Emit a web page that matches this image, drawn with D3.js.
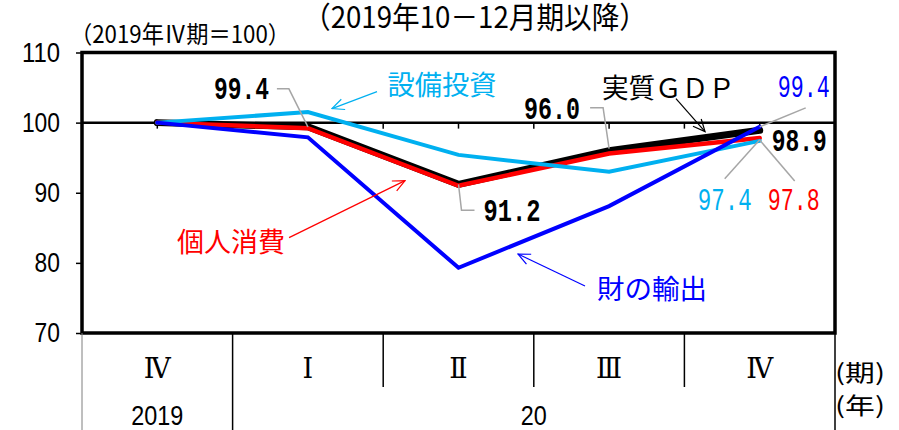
<!DOCTYPE html>
<html>
<head>
<meta charset="utf-8">
<script src="https://cdn.jsdelivr.net/npm/d3@7"></script>
<style>
  body { margin: 0; background: #fff; }
  svg { display: block; }
</style>
</head>
<body>
<div id="chart"></div>
<script>
// categories / tick labels
const quarters = ["Ⅳ", "Ⅰ", "Ⅱ", "Ⅲ", "Ⅳ"];
const yearLabels = ["2019", "20"];
const yearSpans = [1, 4];
const yTicks = [70, 80, 90, 100, 110];

// series (2019 IV = 100)
const gdp = [100, 99.4, 91.2, 96.0, 98.9];
const consumption = [100, 99.2, 91.0, 95.6, 97.8];
const capex = [100, 101.5, 95.4, 93.0, 97.4];
const goodsExports = [100, 97.9, 79.3, 88.1, 99.4];

const JP = "'Noto Sans CJK JP', sans-serif";
const MONO = "'Liberation Mono', monospace";
const SANS = "'Liberation Sans', sans-serif";

const W = 899, H = 430;
const box = { left: 82, right: 835, top: 52.5, bottom: 333 };

const svg = d3.select("#chart").append("svg")
  .attr("width", W).attr("height", H);
const defs = svg.append("defs");

const x = d3.scaleLinear().domain([-0.5, quarters.length - 0.5]).range([box.left, box.right]);
const y = d3.scaleLinear().domain([70, 110]).range([box.bottom, box.top]);

const series = [
  { key: "gdp", values: gdp, color: "#000000", width: 7 },
  { key: "cons", values: consumption, color: "#FF0000", width: 4.5 },
  { key: "capex", values: capex, color: "#00B0F0", width: 4 },
  { key: "exp", values: goodsExports, color: "#0000FF", width: 4 }
];

function arrowMarker(id, color) {
  defs.append("marker")
    .attr("id", id)
    .attr("viewBox", "-1 -7 14 14")
    .attr("refX", 12).attr("refY", 0)
    .attr("markerWidth", 14).attr("markerHeight", 14)
    .attr("markerUnits", "userSpaceOnUse")
    .attr("orient", "auto")
    .append("path")
    .attr("d", "M0,-5.5L12,0L0,5.5")
    .attr("fill", "none")
    .attr("stroke", color)
    .attr("stroke-width", 1.2);
}

// titles
svg.append("text")
  .attr("x", 303).attr("y", 28)
  .attr("font-family", JP).attr("font-size", 30)
  .attr("textLength", 344).attr("lengthAdjust", "spacingAndGlyphs")
  .text("（2019年10－12月期以降）");

svg.append("text")
  .attr("x", 70).attr("y", 43)
  .attr("font-family", JP).attr("font-size", 24)
  .attr("textLength", 220).attr("lengthAdjust", "spacingAndGlyphs")
  .text("（2019年Ⅳ期＝100）");

// y axis
const yAxis = svg.append("g")
  .attr("transform", `translate(${box.left},0)`)
  .call(d3.axisLeft(y).tickValues(yTicks).tickSize(6).tickPadding(16));
yAxis.select(".domain").remove();
yAxis.selectAll(".tick line").attr("stroke", "#000").attr("stroke-width", 1.5);
yAxis.selectAll(".tick text")
  .attr("font-family", SANS).attr("font-size", 27).attr("fill", "#000")
  .attr("textLength", d => String(d).length * 12.7)
  .attr("lengthAdjust", "spacingAndGlyphs");

// reference line at 100 with half-category ticks
svg.append("line")
  .attr("x1", box.left).attr("x2", box.right)
  .attr("y1", y(100)).attr("y2", y(100))
  .attr("stroke", "#000").attr("stroke-width", 2.5);
const halfTicks = d3.range(0, quarters.length - 0.5 + 0.01, 0.5).filter(d => d < quarters.length - 0.5);
svg.append("g").selectAll("line")
  .data(halfTicks)
  .join("line")
  .attr("x1", d => x(d)).attr("x2", d => x(d))
  .attr("y1", y(100)).attr("y2", y(100) + 6)
  .attr("stroke", "#000").attr("stroke-width", 1.5);

// series lines
const line = d3.line().x((d, i) => x(i)).y(d => y(d));
svg.append("g").selectAll("path")
  .data(series)
  .join("path")
  .attr("d", d => line(d.values))
  .attr("fill", "none")
  .attr("stroke", d => d.color)
  .attr("stroke-width", d => d.width)
  .attr("stroke-linecap", "round")
  .attr("stroke-linejoin", "miter");

// frame
svg.append("rect")
  .attr("x", box.left).attr("y", box.top)
  .attr("width", box.right - box.left).attr("height", box.bottom - box.top)
  .attr("fill", "none").attr("stroke", "#000").attr("stroke-width", 3.5);

// value labels with gray leaders (offsets from the data point)
const valueLabels = [
  { s: gdp, i: 1, text: "99.4", color: "#000", bold: true, anchor: "end", dx: -39, dy: -28, w: 55, leader: [[0, 0], [-19, -38], [-31, -38]] },
  { s: gdp, i: 3, text: "96.0", color: "#000", bold: true, anchor: "end", dx: -29, dy: -32, w: 56, leader: [[0, -2], [-6, -43], [-19, -43]] },
  { s: gdp, i: 2, text: "91.2", color: "#000", bold: true, anchor: "start", dx: 25, dy: 37, w: 57, leader: [[0, 0], [3, 26], [16, 26]] },
  { s: gdp, i: 4, text: "98.9", color: "#000", bold: true, anchor: "start", dx: 12, dy: 21, w: 55, leader: null },
  { s: goodsExports, i: 4, text: "99.4", color: "#0000FF", bold: false, anchor: "start", dx: 18, dy: -30, w: 52, leader: [[0, 0], [46, -19]] },
  { s: capex, i: 4, text: "97.4", color: "#00B0F0", bold: false, anchor: "start", dx: -62, dy: 69, w: 54, leader: [[0, -1], [-35, 38]] },
  { s: consumption, i: 4, text: "97.8", color: "#FF0000", bold: false, anchor: "start", dx: 8, dy: 72, w: 52, leader: [[0, 2], [35, 43]] }
];

const ann = svg.append("g");
valueLabels.forEach(d => {
  const px = x(d.i), py = y(d.s[d.i]);
  if (d.leader) {
    ann.append("polyline")
      .attr("points", d.leader.map(p => [px + p[0], py + p[1]].join(",")).join(" "))
      .attr("fill", "none").attr("stroke", "#A6A6A6").attr("stroke-width", 1.5);
  }
  ann.append("text")
    .attr("x", px + d.dx).attr("y", py + d.dy)
    .attr("text-anchor", d.anchor)
    .attr("font-family", MONO).attr("font-size", 31)
    .attr("font-weight", d.bold ? "bold" : "normal")
    .attr("fill", d.color)
    .attr("textLength", d.w).attr("lengthAdjust", "spacingAndGlyphs")
    .text(d.text);
});

// series names with arrows (positions in category / value units)
const nameLabels = [
  { text: "設備投資", color: "#00B0F0", at: [1.89, 105.63], w: 109, from: [1.459, 104.42], to: [1.16, 102.0] },
  { text: "実質ＧＤＰ", color: "#000000", at: [3.394, 105.2], w: 133, from: [3.444, 103.42], to: [3.637, 98.72] },
  { text: "個人消費", color: "#FF0000", at: [0.489, 83.24], w: 108, from: [0.875, 83.6], to: [1.645, 91.73] },
  { text: "財の輸出", color: "#0000FF", at: [3.285, 76.55], w: 110, from: [2.84, 76.7], to: [2.395, 81.26] }
];

nameLabels.forEach((d, k) => {
  const id = "arrow-" + k;
  arrowMarker(id, d.color);
  ann.append("line")
    .attr("x1", x(d.from[0])).attr("y1", y(d.from[1]))
    .attr("x2", x(d.to[0])).attr("y2", y(d.to[1]))
    .attr("stroke", d.color).attr("stroke-width", 1.2)
    .attr("marker-end", `url(#${id})`);
  ann.append("text")
    .attr("x", x(d.at[0])).attr("y", y(d.at[1]))
    .attr("text-anchor", "middle").attr("dominant-baseline", "central")
    .attr("font-family", JP).attr("font-size", 27)
    .attr("fill", d.color)
    .attr("textLength", d.w).attr("lengthAdjust", "spacingAndGlyphs")
    .text(d.text);
});

// category table under the plot
const table = svg.append("g");
const rowSplit = 387;
const bounds = d3.range(quarters.length + 1).map(i => i - 0.5);
let acc = 0;
const yearBounds = new Set([0]);
yearSpans.forEach(s => { acc += s; yearBounds.add(acc); });

table.selectAll("line")
  .data(bounds)
  .join("line")
  .attr("x1", d => x(d)).attr("x2", d => x(d))
  .attr("y1", box.bottom)
  .attr("y2", (d, i) => yearBounds.has(i) ? H : rowSplit)
  .attr("stroke", (d, i) => i === 0 ? "#7F7F7F" : "#000")
  .attr("stroke-width", (d, i) => i === 0 ? 1 : 1.5);

table.selectAll("text.q")
  .data(quarters)
  .join("text")
  .attr("class", "q")
  .attr("x", (d, i) => x(i)).attr("y", 378)
  .attr("text-anchor", "middle")
  .attr("font-family", "'DejaVu Serif', serif").attr("font-size", 27)
  .text(d => d);

let start = 0;
yearLabels.forEach((lab, k) => {
  const mid = start - 0.5 + yearSpans[k] / 2;
  table.append("text")
    .attr("x", x(mid)).attr("y", 425)
    .attr("text-anchor", "middle")
    .attr("font-family", SANS).attr("font-size", 28)
    .attr("textLength", lab.length * 13).attr("lengthAdjust", "spacingAndGlyphs")
    .text(lab);
  start += yearSpans[k];
});

table.append("text")
  .attr("x", 835).attr("y", 371).attr("dominant-baseline", "central")
  .attr("font-family", JP).attr("font-size", 23)
  .attr("textLength", 50).attr("lengthAdjust", "spacingAndGlyphs")
  .text("(期)");
table.append("text")
  .attr("x", 835).attr("y", 404).attr("dominant-baseline", "central")
  .attr("font-family", JP).attr("font-size", 23)
  .attr("textLength", 50).attr("lengthAdjust", "spacingAndGlyphs")
  .text("(年)");
</script>
</body>
</html>
